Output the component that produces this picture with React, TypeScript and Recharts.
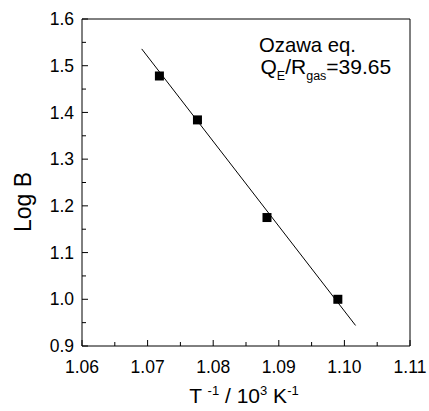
import { ScatterChart, Scatter, XAxis, YAxis, ReferenceLine, Customized } from "recharts";

// measured points (T^-1 in 10^3 K^-1, log of heating rate)
const invTemp = [1.0718, 1.0776, 1.0882, 1.099];
const logB = [1.478, 1.384, 1.175, 1.0];

// ends of the fitted line
const fitX = [1.0691, 1.1017];
const fitY = [1.536, 0.944];

const xTicks = [1.06, 1.065, 1.07, 1.075, 1.08, 1.085, 1.09, 1.095, 1.1, 1.105, 1.11];
const yTicks = [0.9, 0.95, 1.0, 1.05, 1.1, 1.15, 1.2, 1.25, 1.3, 1.35, 1.4, 1.45, 1.5, 1.55, 1.6];

const points = invTemp.map((x, i) => ({ x, y: logB[i] }));
const fitLine = fitX.map((x, i) => ({ x, y: fitY[i] }));

const FONT = '"Liberation Sans", Arial, Helvetica, sans-serif';
const X_MARGIN = 15;
const Y_MARGIN = 8;

const isMajor = (v: number, step: number) => Math.abs(v / step - Math.round(v / step)) < 1e-6;

const XTick = (props: any) => {
  const { x, y, payload } = props;
  const major = isMajor(payload.value, 0.01);
  const axisY = y - X_MARGIN;
  return (
    <g>
      <line x1={x} x2={x} y1={axisY} y2={axisY - (major ? 6 : 4)} stroke="#000" />
      {major && (
        <text x={x} y={y} dy="0.71em" textAnchor="middle" fontSize={17.5} fontFamily={FONT} fill="#000">
          {payload.value.toFixed(2)}
        </text>
      )}
    </g>
  );
};

const YTick = (props: any) => {
  const { x, y, payload } = props;
  const major = isMajor(payload.value, 0.1);
  const axisX = x + Y_MARGIN;
  return (
    <g>
      <line x1={axisX} x2={axisX + (major ? 6 : 4)} y1={y} y2={y} stroke="#000" />
      {major && (
        <text x={x} y={y} dy="0.355em" textAnchor="end" fontSize={17.5} fontFamily={FONT} fill="#000">
          {payload.value.toFixed(1)}
        </text>
      )}
    </g>
  );
};

const Square = (props: any) => (
  <rect x={props.cx - 4.5} y={props.cy - 4.5} width={9} height={9} fill="#000" />
);

const Labels = () => (
  <g fontFamily={FONT} fill="#000">
    <text x={31} y={202} fontSize={23} textAnchor="middle" transform="rotate(-90 31 202)">
      Log B
    </text>
    <text x={244} y={403} fontSize={21} textAnchor="middle">
      <tspan>T </tspan>
      <tspan fontSize={13} dy={-8}>-1</tspan>
      <tspan dy={8}> / 10</tspan>
      <tspan fontSize={13} dy={-8}>3</tspan>
      <tspan dy={8}> K</tspan>
      <tspan fontSize={13} dy={-8}>-1</tspan>
    </text>
    <text x={259} y={51.5} fontSize={20.3}>
      Ozawa eq.
    </text>
    <text x={260.5} y={74.3} fontSize={21}>
      <tspan>Q</tspan>
      <tspan fontSize={12.5} dy={6}>E</tspan>
      <tspan dy={-6}>/R</tspan>
      <tspan fontSize={12.5} dy={6}>gas</tspan>
      <tspan dy={-6}>=39.65</tspan>
    </text>
  </g>
);

export default function App() {
  return (
    <div style={{ position: "absolute", left: 0, top: 0, width: 429, height: 411, background: "#fff" }}>
      <ScatterChart width={429} height={411} margin={{ top: 19, right: 19, left: 0, bottom: 0 }}>
        <XAxis
          type="number"
          dataKey="x"
          domain={[1.06, 1.11]}
          ticks={xTicks}
          interval={0}
          height={65}
          tickSize={0}
          tickMargin={X_MARGIN}
          tick={<XTick />}
          axisLine={{ stroke: "#000" }}
        />
        <YAxis
          type="number"
          dataKey="y"
          domain={[0.9, 1.6]}
          ticks={yTicks}
          interval={0}
          width={82}
          tickSize={0}
          tickMargin={Y_MARGIN}
          tick={<YTick />}
          axisLine={{ stroke: "#000" }}
        />
        <ReferenceLine y={1.6} stroke="#000" />
        <ReferenceLine x={1.11} stroke="#000" />
        <Scatter
          data={fitLine}
          line={{ stroke: "#000", strokeWidth: 1 }}
          shape={() => <g />}
          isAnimationActive={false}
        />
        <Scatter data={points} shape={<Square />} isAnimationActive={false} />
        <Customized component={Labels} />
      </ScatterChart>
    </div>
  );
}
